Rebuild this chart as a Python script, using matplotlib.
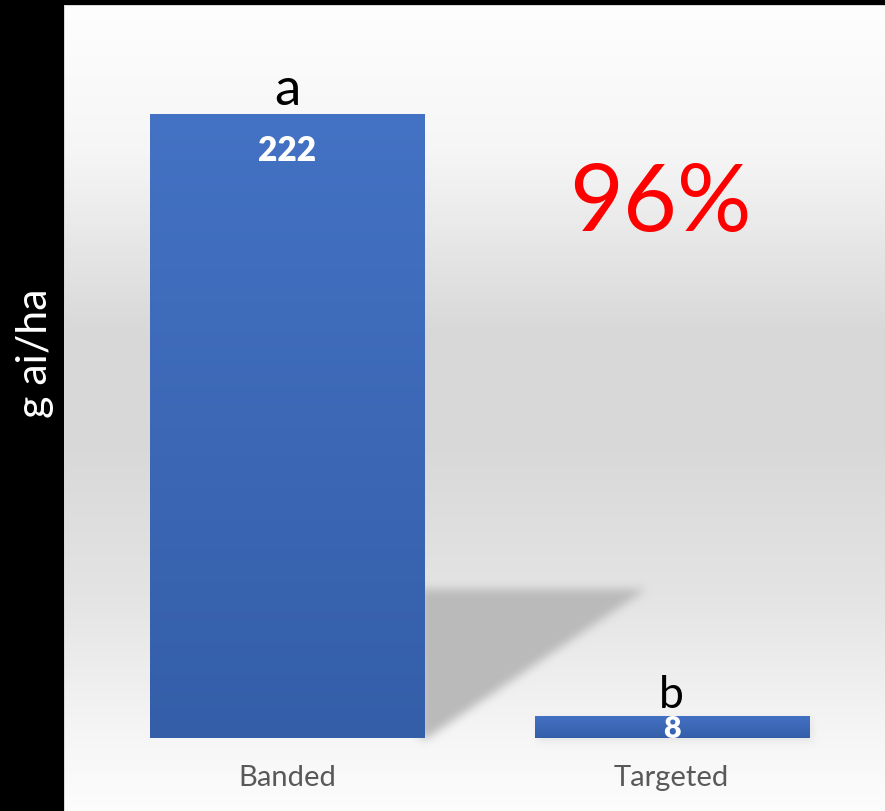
import numpy as np
import matplotlib
matplotlib.use("Agg")
import matplotlib.pyplot as plt

# ---- data ----
categories = ["Banded", "Targeted"]
values = [222, 8]
letters = ["a", "b"]
reduction_label = "96%"
ylabel = "g ai/ha"

W, H = 885, 812
FONT = "Lato"

fig = plt.figure(figsize=(W / 100, H / 100), dpi=100, facecolor="black")

# ---- background (gradient panel + shadow) ----
bg = fig.add_axes([0, 0, 1, 1])
bg.set_axis_off()
yy, xx = np.mgrid[0:H, 0:W].astype(float)
stops_y = [7, 150, 330, 450, 600, 739, 812]
stops_v = [0.995, 0.965, 0.85, 0.85, 0.895, 0.965, 0.99]
grad = np.interp(yy, stops_y, stops_v)
img = np.zeros((H, W))
panel = (xx >= 65) & (yy >= 7)
img[panel] = grad[panel]
img[(yy >= 6) & (yy < 7) & (xx >= 64)] = 0.85
img[(xx >= 64) & (xx < 65) & (yy >= 6)] = 0.85


def box_blur(a, r):
    for axis in (0, 1):
        pad = [(r + 1, r) if i == axis else (0, 0) for i in range(2)]
        c = np.cumsum(np.pad(a, pad, mode="edge"), axis=axis)
        if axis == 0:
            a = (c[2 * r + 1:, :] - c[:-2 * r - 1, :]) / (2 * r + 1)
        else:
            a = (c[:, 2 * r + 1:] - c[:, :-2 * r - 1]) / (2 * r + 1)
    return a


# perspective shadow of the tall bar (triangle), blurred
x0, y0, x1, y1, x2 = 424.0, 590.0, 645.0, 739.0, 426.0
inside = (yy >= y0) & (yy <= y1) & (xx >= x0 - 4)
xlim_line = x1 + (yy - y0) * (x2 - x1) / (y1 - y0)
inside &= xx <= xlim_line
mask = inside.astype(float)
for _ in range(3):
    mask = box_blur(mask, 4)
# faint soft shadow beneath the small bar
small = ((xx >= 538) & (xx <= 812) & (yy >= 720) & (yy <= 742)).astype(float)
for _ in range(3):
    small = box_blur(small, 3)
mask = np.maximum(mask, 0.25 * small)
mask[~panel] = 0
shadow_v = 0.73
img = np.where(panel, img * (1 - mask) + shadow_v * mask, img)
rgb = np.dstack([img, img, img])
bg.imshow(rgb, extent=(0, W, H, 0), aspect="auto", interpolation="nearest")
bg.set_xlim(0, W)
bg.set_ylim(H, 0)

# ---- main axes ----
ax = fig.add_axes([65 / W, (H - 739) / H, 820 / W, (739 - 7) / H])
ax.set_facecolor("none")
x = np.arange(len(categories))
bars = ax.bar(x, values, width=0.7126, color="#4472c4", zorder=2)

# gradient fill for bars (each bar its own gradient)
top_c = np.array([68, 114, 196]) / 255
bot_c = np.array([52, 94, 168]) / 255
gimg = np.linspace(0, 1, 256)[:, None, None] * (top_c - bot_c) + bot_c
gimg = np.repeat(gimg, 2, axis=1)
for b in bars:
    bx = b.get_x()
    bw, bh = b.get_width(), b.get_height()
    im = ax.imshow(gimg, extent=(bx, bx + bw, 0, bh), origin="lower",
                   aspect="auto", zorder=3)
    im.set_clip_path(b)
ax.set_xlim(-0.577, 1.555)
ax.set_ylim(0, 260.5)

for s in ax.spines.values():
    s.set_visible(False)
ax.set_yticks([])
ax.set_xticks(x)
ax.set_xticklabels(categories, fontsize=21, color="#595959", family=FONT)
ax.tick_params(axis="x", length=0, pad=18.5)

# letters above bars
ax.annotate(letters[0], xy=(x[0], values[0]), xytext=(0, 7.5), textcoords="offset points",
            ha="center", va="baseline", fontsize=38, color="black", family=FONT, zorder=5)
ax.annotate(letters[1], xy=(x[1], values[1]), xytext=(0, 5.8), textcoords="offset points",
            ha="center", va="baseline", fontsize=32, color="black", family=FONT, zorder=5)

# value labels
ax.annotate(str(values[0]), xy=(x[0], values[0]), xytext=(0, -25.5), textcoords="offset points",
            ha="center", va="center", fontsize=24, fontweight="heavy", color="white",
            family=FONT, zorder=5)
ax.annotate(str(values[1]), xy=(x[1], values[1] / 2), xytext=(0, -1), textcoords="offset points",
            ha="center", va="center", fontsize=22, fontweight="heavy", color="white",
            family=FONT, zorder=5)

# big red percentage
fig.text(660 / W, 1 - 231 / H, reduction_label, ha="center", va="baseline",
         fontsize=67, color="#ff0000", family=FONT)

# y label on black strip
fig.text(35 / W, 1 - 353 / H, ylabel, rotation=90, ha="center", va="center",
         fontsize=31, color="white", family=FONT)

fig.savefig("out.png", dpi=100, facecolor="black")
